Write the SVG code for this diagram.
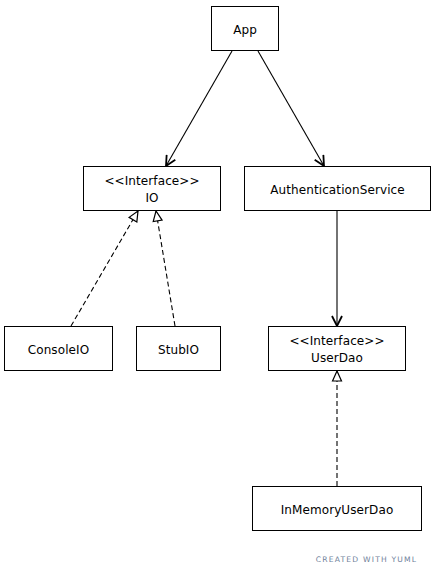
<svg xmlns="http://www.w3.org/2000/svg" width="435" height="575" viewBox="0 0 435 575">
<style>
.n rect{fill:#fff;stroke:#000;stroke-width:1}
text{font-family:"DejaVu Sans",sans-serif;font-size:12px;letter-spacing:0.1px;fill:#000;text-anchor:middle}
.e{fill:none;stroke:#000;stroke-width:1.1}
.d{stroke-dasharray:5,3}
.wm{font-size:7.6px;fill:#6f819a;letter-spacing:1.2px}
</style>
<defs>
<marker id="open" viewBox="0 0 12 12" refX="11" refY="6" markerWidth="12" markerHeight="12" markerUnits="userSpaceOnUse" orient="auto">
<path d="M1,1 L11,6 L1,11" fill="none" stroke="#000" stroke-width="1.8"/>
</marker>
<marker id="tri" viewBox="0 0 12 12" refX="11" refY="6" markerWidth="12" markerHeight="12" markerUnits="userSpaceOnUse" orient="auto">
<path d="M1,1.5 L11,6 L1,10.5 Z" fill="#fff" stroke="#000" stroke-width="1.2"/>
</marker>
</defs>
<rect width="435" height="575" fill="#fff"/>
<g id="connectors">
<path class="e" d="M232,51 L166,166" marker-end="url(#open)"/>
<path class="e" d="M258,51 L324,166" marker-end="url(#open)"/>
<path class="e" d="M337,211 L337,326" marker-end="url(#open)"/>
<path class="e d" d="M71,326 L138,211" marker-end="url(#tri)"/>
<path class="e d" d="M175,326 L156,211" marker-end="url(#tri)"/>
<path class="e d" d="M337,486 L337,371" marker-end="url(#tri)"/>
</g>
<g id="App" class="n"><rect x="211.5" y="6.5" width="67" height="44"/><text x="245" y="34">App</text></g>
<g id="IO" class="n"><rect x="83.5" y="166.5" width="137" height="44"/><text x="152" y="185">&lt;&lt;Interface&gt;&gt;</text><text x="152" y="202">IO</text></g>
<g id="AuthenticationService" class="n"><rect x="244.5" y="166.5" width="186" height="44"/><text x="337.5" y="194">AuthenticationService</text></g>
<g id="ConsoleIO" class="n"><rect x="4.5" y="326.5" width="108" height="44"/><text x="58.5" y="354">ConsoleIO</text></g>
<g id="StubIO" class="n"><rect x="136.5" y="326.5" width="84" height="44"/><text x="178.5" y="354">StubIO</text></g>
<g id="UserDao" class="n"><rect x="268.5" y="326.5" width="137" height="44"/><text x="337" y="345">&lt;&lt;Interface&gt;&gt;</text><text x="337" y="362">UserDao</text></g>
<g id="InMemoryUserDao" class="n"><rect x="252.5" y="486.5" width="169" height="44"/><text x="337" y="514">InMemoryUserDao</text></g>
<text class="wm" x="366.5" y="562">CREATED WITH YUML</text>
</svg>
